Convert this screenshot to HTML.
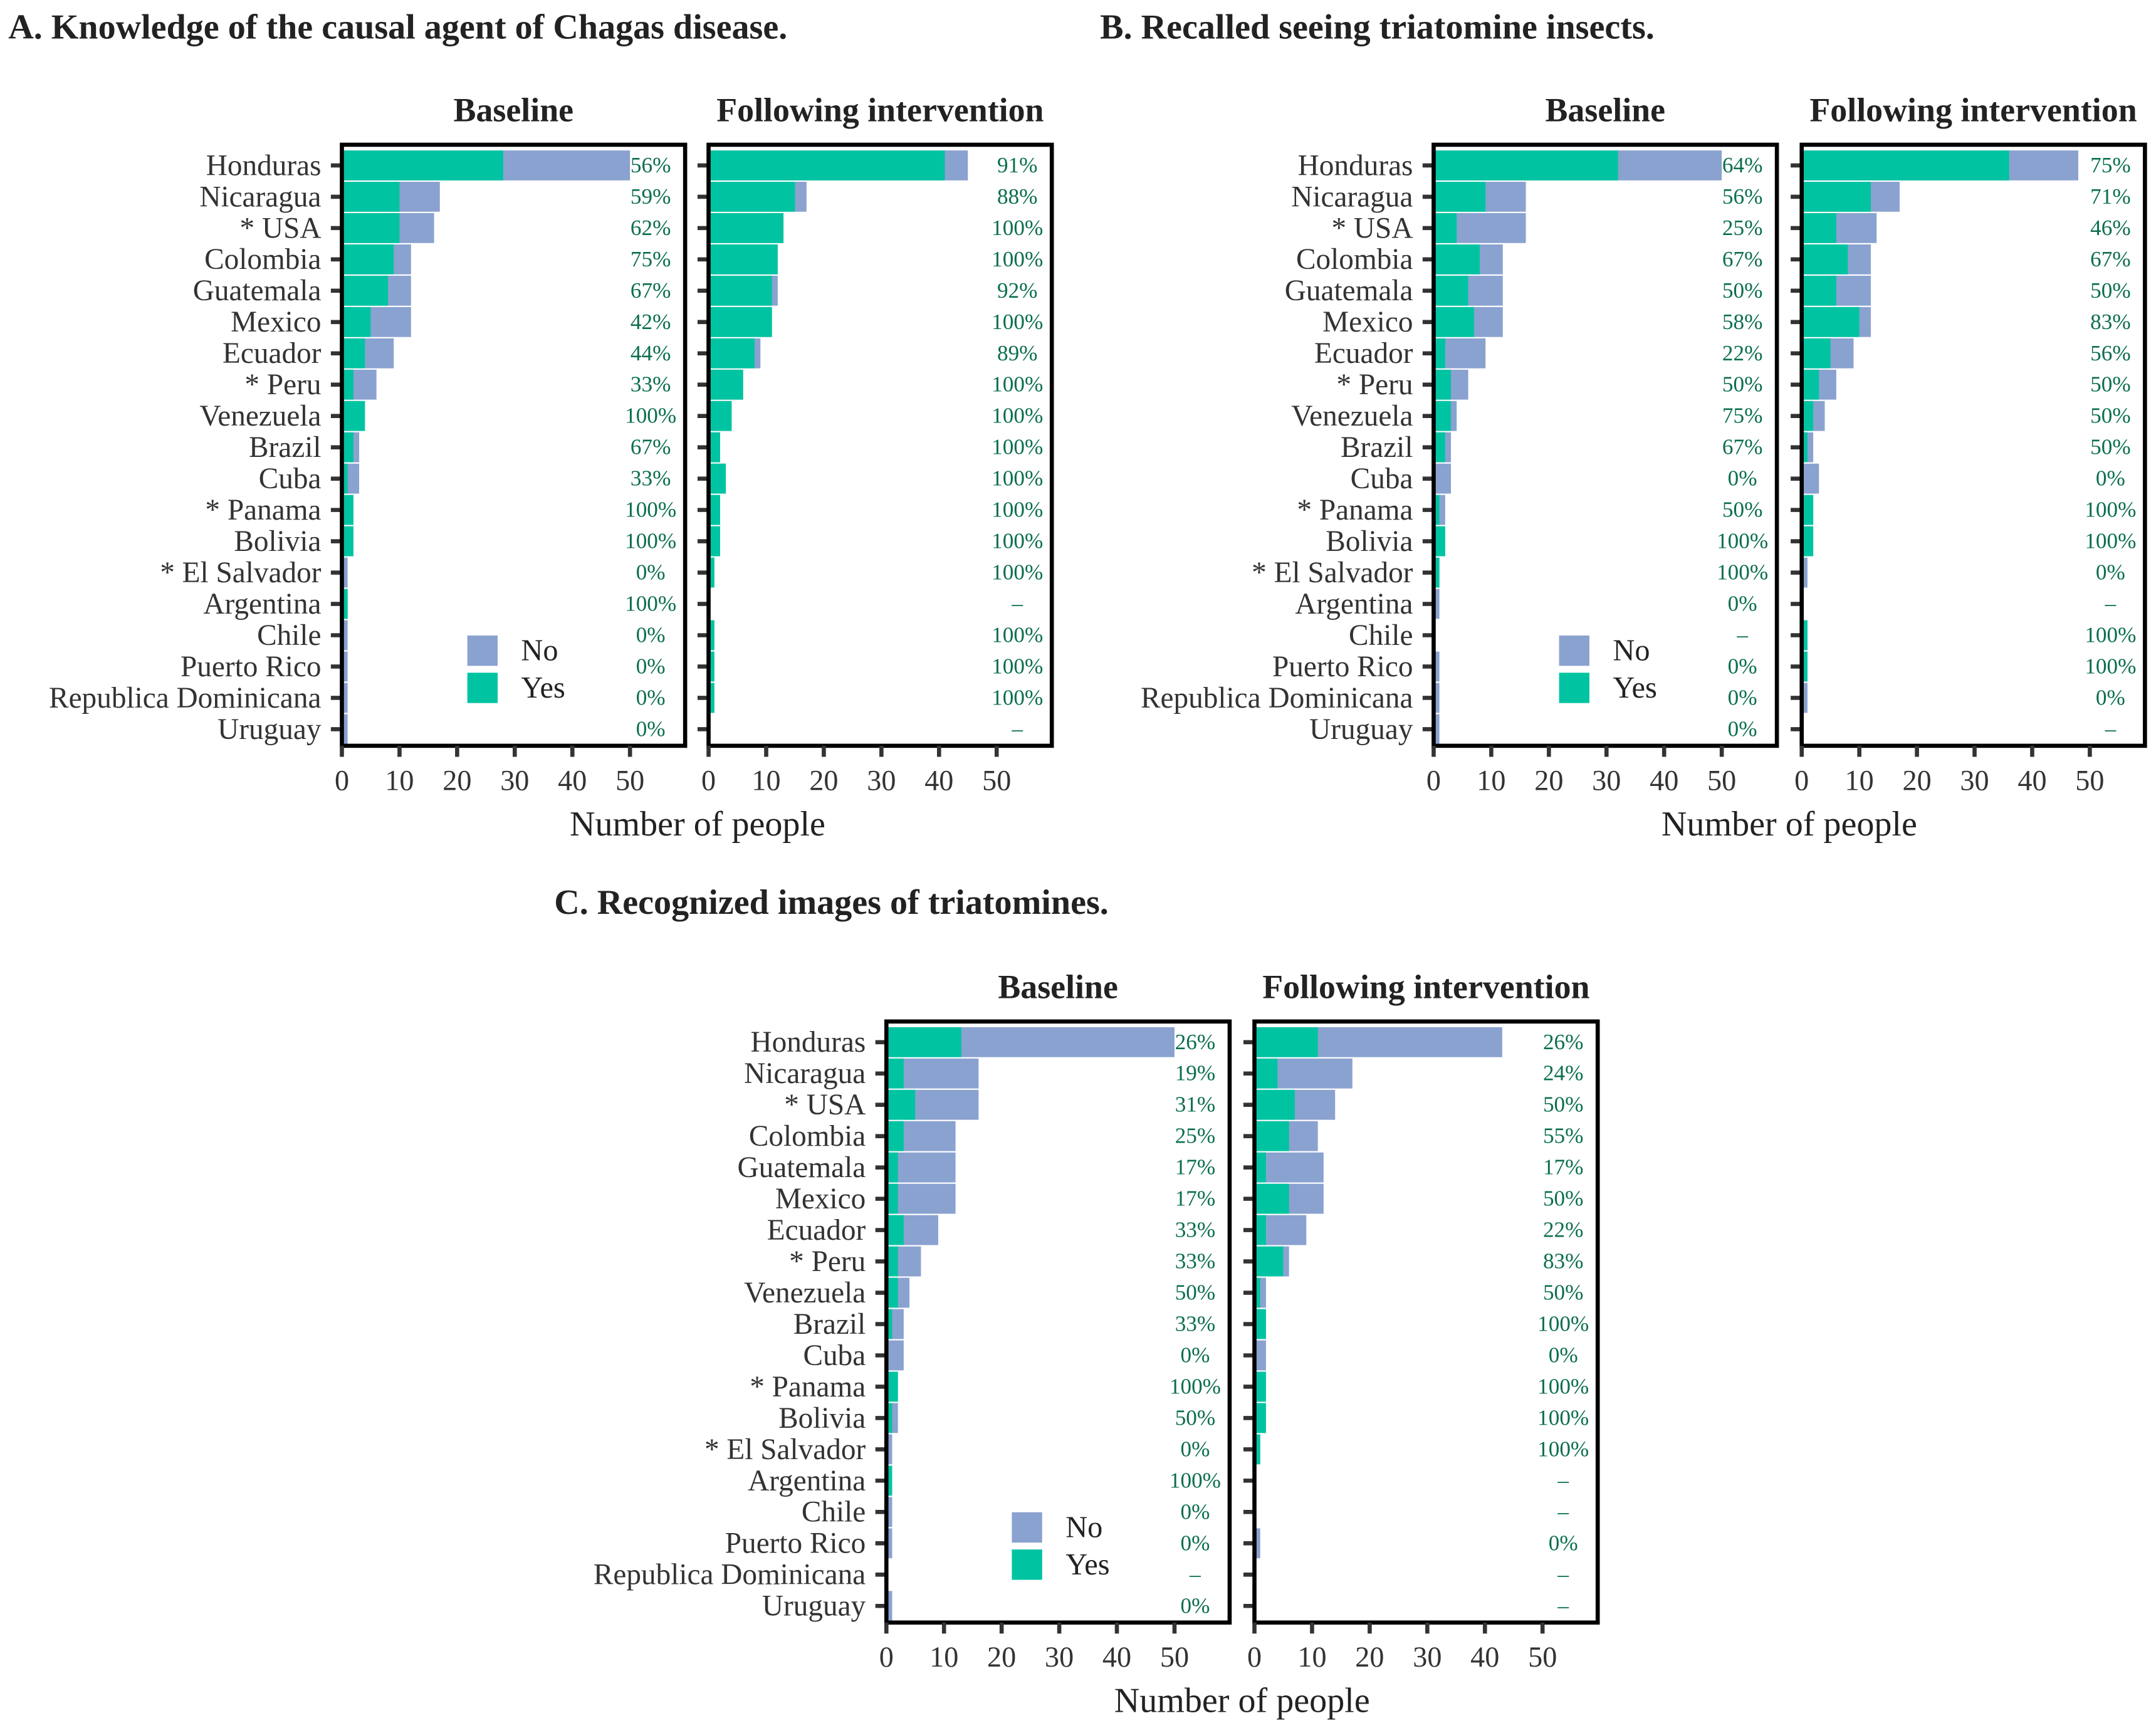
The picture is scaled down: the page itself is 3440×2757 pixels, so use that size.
<!DOCTYPE html>
<html><head><meta charset="utf-8"><style>
html,body{margin:0;padding:0;background:#fff;}
svg{display:block;}
text{font-family:"Liberation Serif",serif;}
</style></head><body>
<svg id="chart" xmlns="http://www.w3.org/2000/svg" width="3440" height="2757" viewBox="0 0 1564 1253.5">
<rect x="0" y="0" width="1564" height="1253.5" fill="#fff"/>
<text x="6" y="28" font-size="25.5" font-weight="bold" fill="#222">A. Knowledge of the causal agent of Chagas disease.</text>
<text x="798" y="28" font-size="25.5" font-weight="bold" fill="#222">B. Recalled seeing triatomine insects.</text>
<text x="402" y="663" font-size="25.5" font-weight="bold" fill="#222">C. Recognized images of triatomines.</text>
<g id="plots"></g>
</svg>
<script>
const countries = ["Honduras","Nicaragua","* USA","Colombia","Guatemala","Mexico","Ecuador","* Peru","Venezuela","Brazil","Cuba","* Panama","Bolivia","* El Salvador","Argentina","Chile","Puerto Rico","Republica Dominicana","Uruguay"];
const xTicks = [0,10,20,30,40,50];

const aBaseTotal = [50,17,16,12,12,12,9,6,4,3,3,2,2,1,1,1,1,1,1];
const aBaseYes   = [28,10,10,9,8,5,4,2,4,2,1,2,2,0,1,0,0,0,0];
const aBasePct   = ["56%","59%","62%","75%","67%","42%","44%","33%","100%","67%","33%","100%","100%","0%","100%","0%","0%","0%","0%"];
const aFollTotal = [45,17,13,12,12,11,9,6,4,2,3,2,2,1,0,1,1,1,0];
const aFollYes   = [41,15,13,12,11,11,8,6,4,2,3,2,2,1,0,1,1,1,0];
const aFollPct   = ["91%","88%","100%","100%","92%","100%","89%","100%","100%","100%","100%","100%","100%","100%","–","100%","100%","100%","–"];

const bBaseTotal = [50,16,16,12,12,12,9,6,4,3,3,2,2,1,1,0,1,1,1];
const bBaseYes   = [32,9,4,8,6,7,2,3,3,2,0,1,2,1,0,0,0,0,0];
const bBasePct   = ["64%","56%","25%","67%","50%","58%","22%","50%","75%","67%","0%","50%","100%","100%","0%","–","0%","0%","0%"];
const bFollTotal = [48,17,13,12,12,12,9,6,4,2,3,2,2,1,0,1,1,1,0];
const bFollYes   = [36,12,6,8,6,10,5,3,2,1,0,2,2,0,0,1,1,0,0];
const bFollPct   = ["75%","71%","46%","67%","50%","83%","56%","50%","50%","50%","0%","100%","100%","0%","–","100%","100%","0%","–"];

const cBaseTotal = [50,16,16,12,12,12,9,6,4,3,3,2,2,1,1,1,1,0,1];
const cBaseYes   = [13,3,5,3,2,2,3,2,2,1,0,2,1,0,1,0,0,0,0];
const cBasePct   = ["26%","19%","31%","25%","17%","17%","33%","33%","50%","33%","0%","100%","50%","0%","100%","0%","0%","–","0%"];
const cFollTotal = [43,17,14,11,12,12,9,6,2,2,2,2,2,1,0,0,1,0,0];
const cFollYes   = [11,4,7,6,2,6,2,5,1,2,0,2,2,1,0,0,0,0,0];
const cFollPct   = ["26%","24%","50%","55%","17%","50%","22%","83%","50%","100%","0%","100%","100%","100%","–","–","0%","–","–"];

const NS = "http://www.w3.org/2000/svg";
const root = document.getElementById("plots");
const TEAL = "#00c4a1", BLUE = "#8aa2d0";
function mk(tag, attrs, parent) {
  const e = document.createElementNS(NS, tag);
  for (const k in attrs) e.setAttribute(k, attrs[k]);
  (parent || root).appendChild(e);
  return e;
}
function txt(str, attrs, parent) { const t = mk("text", attrs, parent); t.textContent = str; return t; }

function drawBox(left, top, total, yes, pct, header, showLabels, prefix) {
  const W = 249, H = 436, unit = 209 / 50, rowH = 22.72;
  const x = v => left + v * unit;
  const yc = i => top + 15 + i * rowH;
  const g = mk("g", {});
  
  
  const h = txt(header, {x: left + W / 2, y: top - 17, "font-size": 24.5, "font-weight": "bold", "text-anchor": "middle", fill: "#222"}, g);
  
  
  for (let i = 0; i < countries.length; i++) {
    const bt = mk("rect", {x: x(0), y: yc(i) - rowH / 2 + 0.5, width: total[i] * unit, height: rowH - 1, fill: BLUE}, g);
    
    
    const by = mk("rect", {x: x(0), y: yc(i) - rowH / 2 + 0.5, width: yes[i] * unit, height: rowH - 1, fill: TEAL}, g);
    
    
    const pl = txt(pct[i], {x: left + W - 25, y: yc(i) + 5, "font-size": 16, "text-anchor": "middle", fill: "#0b6e50"}, g);
    
    
    const tk = mk("line", {x1: left - 8, x2: left, y1: yc(i), y2: yc(i), stroke: "#333", "stroke-width": 3}, g);
    
    
    if (showLabels) {
      const cl = txt(countries[i], {x: left - 15, y: yc(i) + 7, "font-size": 21.5, "text-anchor": "end", fill: "#333"}, g);
      
      
    }
  }
  const box = mk("rect", {x: left, y: top, width: W, height: H, fill: "none", stroke: "#000", "stroke-width": 3}, g);
  
  
  xTicks.forEach(v => {
    const t = mk("line", {x1: x(v), x2: x(v), y1: top + H, y2: top + H + 8, stroke: "#333", "stroke-width": 3}, g);
    
    
    const l = txt(String(v), {x: x(v), y: top + H + 32, "font-size": 21, "text-anchor": "middle", fill: "#333"}, g);
    
    
  });
}
function legend(left, top, prefix) {
  const g = mk("g", {});
  
  
  mk("rect", {x: left + 91, y: top + 356, width: 22, height: 22, fill: BLUE}, g);
  mk("rect", {x: left + 91, y: top + 383, width: 22, height: 22, fill: TEAL}, g);
  const a = txt("No", {x: left + 130, y: top + 374, "font-size": 22, fill: "#222"}, g);
  
  
  const b = txt("Yes", {x: left + 130, y: top + 401, "font-size": 22, fill: "#222"}, g);
  
  
}
function xTitle(cx, y, prefix) {
  const t = txt("Number of people", {x: cx, y: y, "font-size": 25.5, "text-anchor": "middle", fill: "#222"});
  
  
}
// Panel A
drawBox(248, 105, aBaseTotal, aBaseYes, aBasePct, "Baseline", true, "a-baseline");
drawBox(514, 105, aFollTotal, aFollYes, aFollPct, "Following intervention", false, "a-following");
legend(248, 105, "a"); xTitle(506, 606, "a");
// Panel B
drawBox(1040, 105, bBaseTotal, bBaseYes, bBasePct, "Baseline", true, "b-baseline");
drawBox(1307, 105, bFollTotal, bFollYes, bFollPct, "Following intervention", false, "b-following");
legend(1040, 105, "b"); xTitle(1298, 606, "b");
// Panel C
drawBox(643, 741, cBaseTotal, cBaseYes, cBasePct, "Baseline", true, "c-baseline");
drawBox(910, 741, cFollTotal, cFollYes, cFollPct, "Following intervention", false, "c-following");
legend(643, 741, "c"); xTitle(901, 1242, "c");
</script>
</body></html>
